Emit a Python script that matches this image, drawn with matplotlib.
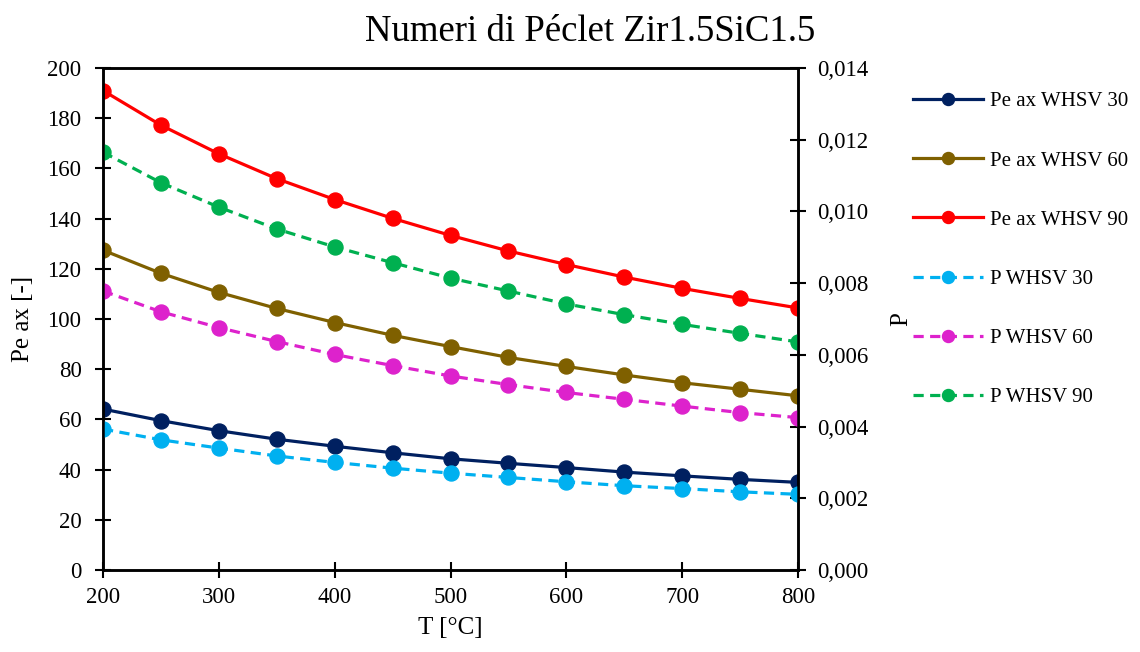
import matplotlib
matplotlib.use("Agg")
import matplotlib.pyplot as plt
from matplotlib.ticker import FuncFormatter

plt.rcParams['font.family'] = ['Liberation Serif', 'DejaVu Serif']

T = [200, 250, 300, 350, 400, 450, 500, 550, 600, 650, 700, 750, 800]

pe_30 = [64.1, 59.5, 55.5, 52.1, 49.3, 46.7, 44.3, 42.5, 40.8, 39.0, 37.5, 36.1, 34.9]
pe_60 = [127.4, 118.2, 110.6, 104.2, 98.6, 93.5, 89.0, 84.7, 81.1, 77.7, 74.6, 72.0, 69.4]
pe_90 = [191.0, 177.2, 165.8, 155.9, 147.6, 140.1, 133.3, 127.1, 121.7, 116.7, 112.2, 108.2, 104.4]

p_30 = [0.00393, 0.00363, 0.00340, 0.00318, 0.00300, 0.00284, 0.00270, 0.00258, 0.00246, 0.00235, 0.00227, 0.00218, 0.00211]
p_60 = [0.00778, 0.00720, 0.00676, 0.00637, 0.00601, 0.00570, 0.00541, 0.00517, 0.00495, 0.00476, 0.00457, 0.00439, 0.00425]
p_90 = [0.01165, 0.01080, 0.01012, 0.00951, 0.00901, 0.00857, 0.00814, 0.00778, 0.00742, 0.00712, 0.00685, 0.00660, 0.00636]

fig = plt.figure(figsize=(11.4, 6.52), dpi=100)
ax = fig.add_axes([0.0904, 0.1258, 0.6096, 0.7699])
ax2 = ax.twinx()

lw = 2.3
ms = 10.8
h1, = ax.plot(T, pe_30, '-o', color='#002060', lw=lw, ms=ms, label='Pe ax WHSV 30')
h2, = ax.plot(T, pe_60, '-o', color='#7F6000', lw=lw, ms=ms, label='Pe ax WHSV 60')
h3, = ax.plot(T, pe_90, '-o', color='#FF0000', lw=lw, ms=ms, label='Pe ax WHSV 90')
dash = (0, (3.2, 2.0))
h4, = ax2.plot(T, p_30, 'o', ls=dash, color='#00B0F0', lw=lw, ms=ms, label='P WHSV 30')
h5, = ax2.plot(T, p_60, 'o', ls=dash, color='#DD22CC', lw=lw, ms=ms, label='P WHSV 60')
h6, = ax2.plot(T, p_90, 'o', ls=dash, color='#00B050', lw=lw, ms=ms, label='P WHSV 90')

ax.set_xlim(200, 800)
ax.set_ylim(0, 200)
ax2.set_ylim(0, 0.014)
ax.set_xticks(range(200, 801, 100))
ax.set_yticks(range(0, 201, 20))
ax2.set_yticks([i * 0.002 for i in range(8)])
ax2.yaxis.set_major_formatter(FuncFormatter(lambda v, p: f"{v:.3f}".replace('.', ',')))

for a in (ax, ax2):
    a.tick_params(direction='inout', length=11, width=1.5, labelsize=16.5)
    for s in a.spines.values():
        s.set_linewidth(1.8)
ax.tick_params(axis='y', pad=10)
ax.tick_params(axis='x', pad=7)
ax2.tick_params(axis='y', pad=8)

ax.set_xlabel('T [°C]', fontsize=18, labelpad=6)
ax.set_ylabel('Pe ax [-]', fontsize=18, labelpad=10)
ax2.set_ylabel('P', fontsize=18, labelpad=16)
fig.text(0.518, 0.925, 'Numeri di Péclet Zir1.5SiC1.5', fontsize=26.5, ha='center', va='bottom')

fig.legend(handles=[h1, h2, h3, h4, h5, h6], loc='upper left',
           bbox_to_anchor=(0.784, 0.888), frameon=False, fontsize=15,
           handlelength=3.37, labelspacing=1.9, handletextpad=0.33, markerscale=0.8)

fig.savefig('out.png', dpi=100)
